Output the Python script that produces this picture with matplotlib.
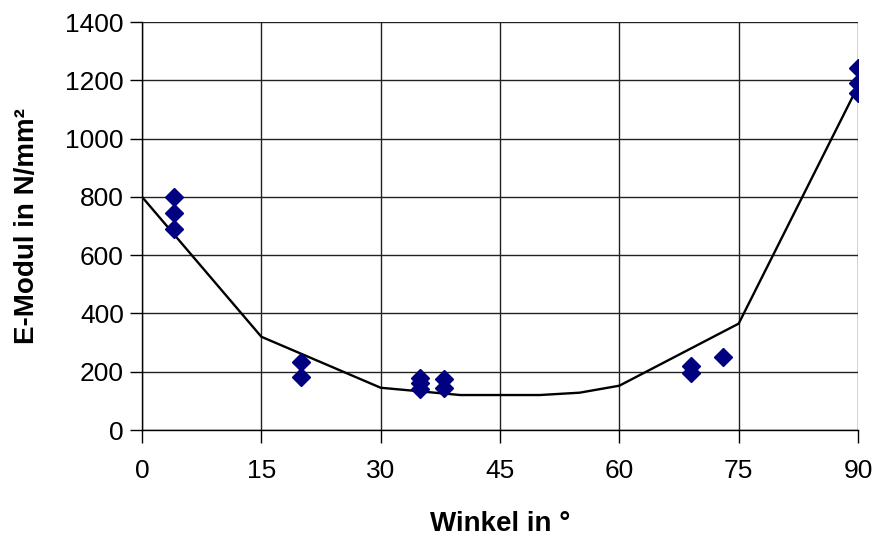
import matplotlib
matplotlib.use("Agg")
import matplotlib.pyplot as plt

# measured data (angle in degrees, E-Modul in N/mm²)
meas_angle = [4, 4, 4, 20, 20, 35, 35, 35, 38, 38, 69, 69, 73, 90, 90, 90]
meas_modul = [800, 745, 688, 232, 182, 180, 160, 140, 175, 145, 220, 196, 251, 1241, 1192, 1155]

# model curve
curve_angle = [0, 15, 30, 40, 50, 55, 60, 75, 90]
curve_modul = [800, 320, 145, 120, 120, 128, 152, 365, 1180]

x_ticks = [0, 15, 30, 45, 60, 75, 90]
y_ticks = [0, 200, 400, 600, 800, 1000, 1200, 1400]

plt.rcParams['font.family'] = ['Liberation Sans', 'DejaVu Sans']

fig = plt.figure(figsize=(8.75, 5.37), dpi=100)
ax = fig.add_axes([142/875, 1-430/537, (858-142)/875, (430-22)/537])

ax.plot(curve_angle, curve_modul, color='black', lw=1.7, zorder=3)
ax.plot(meas_angle, meas_modul, linestyle='none', marker='D', markersize=9,
        color='#000080', markeredgecolor='#000080', zorder=4)

ax.set_xlim(0, 90)
ax.set_ylim(0, 1400)
ax.set_xticks(x_ticks)
ax.set_yticks(y_ticks)
ax.grid(True, color='#222222', lw=1.0)
ax.set_axisbelow(True)
for s in ['top', 'right']:
    ax.spines[s].set_visible(False)
for s in ['left', 'bottom']:
    ax.spines[s].set_color('black')
    ax.spines[s].set_linewidth(1.0)
ax.tick_params(axis='both', direction='out', length=9, width=1.0, labelsize=19, colors='black')
ax.tick_params(axis='y', pad=4)
ax.tick_params(axis='x', pad=12)

ax.set_xlabel('Winkel in °', fontsize=20, fontweight='bold', labelpad=20)
ax.set_ylabel('E-Modul in N/mm²', fontsize=20, fontweight='bold', labelpad=18)

fig.savefig('out.png', dpi=100)
